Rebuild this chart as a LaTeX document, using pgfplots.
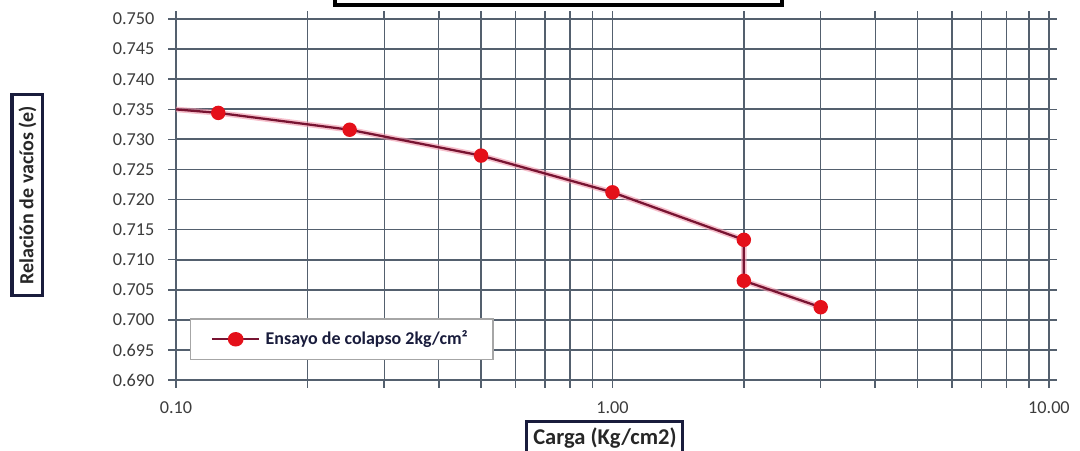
\documentclass[border=0pt]{standalone}
\usepackage{pgfplots}
\pgfplotsset{compat=1.18}
\usepackage{fontspec}
\setmainfont{Carlito}

\definecolor{gridc}{RGB}{84,96,110}
\definecolor{linec}{RGB}{120,20,50}
\definecolor{glowc}{RGB}{240,150,170}
\definecolor{markc}{RGB}{228,16,26}
\definecolor{navy}{RGB}{25,28,60}
\definecolor{tickc}{RGB}{60,60,60}

\begin{document}
\begin{tikzpicture}
\begin{axis}[
  name=ax,
  scale only axis,
  width=12.125cm, height=5.014cm,
  xmode=log,
  xmin=0.1, xmax=10,
  ymin=0.690, ymax=0.750,
  xtick={0.1,1,10},
  xticklabels={0.10,1.00,10.00},
  ytick={0.690,0.695,...,0.7501},
  yticklabels={0.690,0.695,0.700,0.705,0.710,0.715,0.720,0.725,0.730,0.735,0.740,0.745,0.750},
  xmajorgrids, xminorgrids, ymajorgrids,
  major grid style={gridc, line width=0.7pt},
  minor grid style={gridc, line width=0.55pt},
  axis line style={gridc, line width=0.7pt},
  tick style={gridc, line width=0.6pt},
  tick align=outside,
  major tick length=3pt, minor tick length=3pt,
  ticklabel style={font=\fontsize{7.2}{8}\selectfont, text=tickc},
  xticklabel style={yshift=-2pt},
  yticklabel style={xshift=-2pt},
  clip mode=individual,
  legend style={at={(rel axis cs:0.016,0.055)}, anchor=south west,
    draw=gray!70, line width=0.5pt, fill=white,
    font=\fontsize{7.1}{8}\selectfont\bfseries\color{navy},
    inner xsep=8pt, inner ysep=2.5pt},
  legend cell align=left,
  legend image post style={xscale=1.1},
]
\addplot[glowc, line width=2.2pt, opacity=0.6, forget plot] coordinates {
  (0.0625,0.7362) (0.125,0.7344) (0.25,0.7316) (0.5,0.7273) (1.0,0.7212)
  (2.0,0.7133) (2.0,0.7065) (3.0,0.7021)
};
\addplot[linec, line width=0.9pt, mark=*, mark size=2.4pt,
  mark options={fill=markc, draw=markc}] coordinates {
  (0.0625,0.7362) (0.125,0.7344) (0.25,0.7316) (0.5,0.7273) (1.0,0.7212)
  (2.0,0.7133) (2.0,0.7065) (3.0,0.7021)
};
\addlegendentry{Ensayo de colapso 2kg/cm²}
\end{axis}
% chart title frame (cut by the page edge)
\draw[black, line width=1.3pt] (2.208,5.208) rectangle (8.417,5.8);
% axis title boxes
\node[draw=navy, line width=1.2pt, rotate=90, font=\fontsize{7.9}{10}\selectfont\bfseries,
  text=black!85, minimum width=2.78cm, minimum height=0.43cm, inner sep=1pt]
  at (-2.0625,2.569) {Relación de vacíos (e)};
\node[draw=navy, line width=1.2pt, font=\fontsize{8.9}{10}\selectfont\bfseries,
  text=black!85, minimum width=2.167cm, minimum height=0.45cm, inner sep=1pt, anchor=north]
  at (5.958,-0.556) {Carga (Kg/cm2)};
\pgfresetboundingbox
\path[use as bounding box] (-2.444,-0.972) rectangle (12.556,5.278);
\end{tikzpicture}
\end{document}
